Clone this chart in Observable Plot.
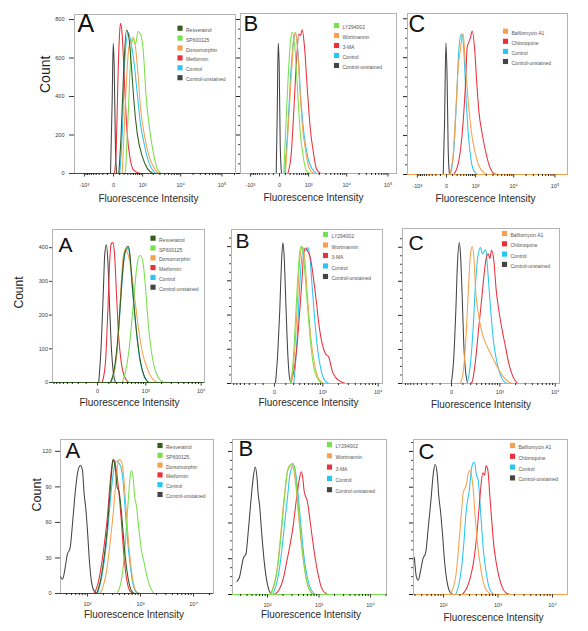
<!DOCTYPE html>
<html><head><meta charset="utf-8">
<script src="https://cdn.jsdelivr.net/npm/d3@7"></script>
<script src="https://cdn.jsdelivr.net/npm/@observablehq/plot@0.6"></script>
<style>
body{margin:0;background:#fff;}
#fig{position:relative;width:588px;height:631px;overflow:hidden;background:#fff;}
</style></head>
<body><div id="fig"></div>
<script>
// ---------- categories / colours ----------
const seriesA = ["Resveratrol","SP600125","Dorsomorphin","Metformin","Control","Control-unstained"];
const seriesB = ["LY294002","Wortmannin","3-MA","Control","Control-unstained"];
const seriesC = ["Bafilomycin A1","Chloroquine","Control","Control-unstained"];
const colorMap = new Map([
  ["Resveratrol","#325d1d"],["SP600125","#78e04a"],["Dorsomorphin","#f6a14b"],["Metformin","#ea303b"],
  ["Control","#28c6f1"],["Control-unstained","#444444"],["LY294002","#78e04a"],["Wortmannin","#f6a14b"],
  ["3-MA","#ea303b"],["Bafilomycin A1","#f6a14b"],["Chloroquine","#ea303b"]
]);

// ---------- tick labels ----------
const xTicksTop = [-1000, 0, 1000, 10000, 100000];
const xLabelsTop = ["-10³","0","10³","10⁴","10⁵"];
const xTicksMid = [0, 1000, 10000];
const xLabelsMid = ["0","10³","10⁴"];
const xTicksBot = [100, 1000, 10000];
const xLabelsBot = ["10²","10³","10⁴"];
const minorSym = [-900,-800,-700,-600,-500,-400,-300,-200,-100,100,200,300,400,500,600,700,800,900,
  2000,3000,4000,5000,6000,7000,8000,9000,20000,30000,40000,50000,60000,70000,80000,90000,200000];
const minorLog = [20,30,40,50,60,70,80,90,200,300,400,500,600,700,800,900,2000,3000,4000,5000,6000,7000,8000,9000,20000];
const yTicksTop = [0,200,400,600,800];
const yMinorTop = [50,100,150,250,300,350,450,500,550,650,700,750];
const yTicksMid = [0,100,200,300,400];
const yMinorMid = [25,50,75,125,150,175,225,250,275,325,350,375,425];
const yTicksBot = [0,30,60,90,120];
const yMinorBot = [7.5,15,22.5,37.5,45,52.5,67.5,75,82.5,97.5,105,112.5,127.5];

// ---------- row 1 (fluorescence, count) ----------
const r1a_Resveratrol = [[85,0],[132,206],[192,552],[262,746],[333,708],[426,552],[518,379],[681,206],[991,85],[1398,24],[1960,0]];
const r1a_SP600125 = [[235,0],[333,379],[416,654],[493,697],[596,671],[716,738],[860,724],[1063,621],[1245,415],[1560,242],[1960,119],[2570,24],[3180,0]];
const r1a_Dorsomorphin = [[154,0],[235,379],[333,654],[416,688],[493,709],[596,654],[716,516],[860,343],[1110,206],[1560,85],[2180,24],[2800,0]];
const r1a_Metformin = [[14,0],[40,119],[67,465],[98,720],[118,780],[154,720],[209,465],[283,206],[389,67],[518,16],[860,0]];
const r1a_Control = [[104,0],[161,240],[209,552],[315,733],[416,673],[518,586],[681,413],[860,258],[1110,154],[1560,50],[2420,0]];
const r1a_Unstained = [[-45,0],[-19,380],[-4,676],[10,550],[29,120],[50,0]];

const r1b_LY294002 = [[67,0],[98,204],[146,464],[209,690],[254,734],[323,673],[416,465],[518,239],[681,83],[860,14],[1160,0]];
const r1b_Wortmannin = [[98,0],[168,291],[254,586],[301,707],[355,734],[437,631],[518,448],[626,257],[811,118],[1012,31],[1398,0]];
const r1b_3MA = [[146,0],[227,101],[301,326],[389,586],[476,725],[548,717],[626,746],[745,656],[905,448],[1110,239],[1398,101],[1680,23],[2180,0]];
const r1b_Control = [[85,0],[146,239],[227,552],[301,699],[365,725],[452,621],[548,413],[716,206],[945,83],[1273,23],[1680,0]];
const r1b_Unstained = [[-50,0],[-34,300],[-19,678],[-4,550],[10,150],[29,0]];

const r1c_Bafilomycin = [[50,0],[112,105],[168,328],[227,551],[292,646],[344,714],[379,721],[464,551],[579,378],[729,225],[940,122],[1240,45],[1713,10],[2200,0]];
const r1c_Chloroquine = [[124,0],[243,70],[344,208],[464,465],[535,654],[609,680],[697,706],[784,737],[940,637],[1086,465],[1240,328],[1548,208],[1907,122],[2337,53],[3160,5],[3860,0]];
const r1c_Control = [[62,0],[124,122],[184,378],[243,635],[292,712],[345,721],[400,637],[493,378],[609,173],[729,70],[879,19],[1160,0]];
const r1c_Unstained = [[-50,0],[-29,260],[-8,676],[8,500],[25,120],[45,0]];

// ---------- row 2 ----------
const r2a_Resveratrol = [[119,0],[159,32],[208,112],[249,212],[290,312],[335,382],[376,400],[415,404],[453,382],[514,292],[580,212],[664,132],[779,62],[941,17],[1145,0]];
const r2a_SP600125 = [[290,0],[355,32],[429,92],[514,192],[588,282],[664,352],[718,372],[779,377],[885,352],[985,282],[1094,192],[1235,112],[1430,52],[1775,12],[2195,0]];
const r2a_Dorsomorphin = [[119,0],[182,52],[232,162],[272,292],[309,372],[355,394],[392,387],[429,372],[514,312],[610,232],[718,152],[845,92],[1066,42],[1332,12],[1656,0]];
const r2a_Metformin = [[36,0],[66,62],[89,212],[110,362],[128,412],[146,415],[169,382],[197,262],[232,132],[272,62],[335,17],[429,0]];
const r2a_Control = [[125,0],[165,30],[212,110],[252,210],[293,310],[338,378],[378,392],[412,398],[450,380],[510,290],[575,212],[660,130],[770,60],[930,17],[1130,0]];
const r2a_Unstained = [[9,0],[28,112],[45,262],[59,382],[75,409],[89,362],[107,232],[127,112],[152,32],[182,0]];

const r2b_LY294002 = [[155,0],[193,67],[227,185],[266,312],[302,387],[329,401],[370,381],[421,302],[478,214],[558,115],[650,47],[790,13],[972,0]];
const r2b_Wortmannin = [[168,0],[212,87],[255,224],[296,352],[335,396],[361,399],[400,372],[462,263],[558,136],[673,57],[829,13],[1017,0]];
const r2b_3MA = [[155,0],[212,47],[255,116],[302,214],[349,313],[383,381],[421,396],[478,386],[558,362],[632,313],[732,244],[829,175],[972,116],[1130,87],[1310,77],[1519,37],[1753,18],[2167,6],[2670,0]];
const r2b_Control = [[201,0],[243,96],[284,234],[329,352],[383,394],[429,387],[478,397],[531,372],[600,283],[673,195],[790,96],[928,37],[1129,6],[1309,0]];
const r2b_Unstained = [[7,0],[24,86],[41,214],[56,352],[69,411],[82,372],[100,234],[122,86],[146,13],[173,0]];

const r2c_Bafilomycin = [[75,0],[110,49],[139,147],[169,284],[197,381],[223,401],[249,372],[284,264],[321,215],[415,147],[542,108],[697,78],[885,49],[1115,24],[1392,8],[1730,0]];
const r2c_Chloroquine = [[197,0],[223,5],[278,68],[341,166],[415,264],[453,313],[522,372],[571,381],[619,367],[673,391],[753,362],[845,274],[954,215],[1115,156],[1290,108],[1494,59],[1852,15],[2195,0]];
const r2c_Control = [[152,0],[197,59],[239,166],[278,293],[321,372],[376,399],[415,381],[453,386],[501,393],[542,352],[600,274],[664,196],[753,117],[885,59],[1032,24],[1235,5],[1430,0]];
const r2c_Unstained = [[-2,0],[17,78],[33,215],[47,352],[63,414],[75,381],[93,254],[110,117],[134,29],[159,0]];

// ---------- row 3 ----------
const r3a_Resveratrol = [[150,0],[174,10],[201,27],[233,52],[262,81],[286,103],[303,113],[321,110],[340,103],[361,90],[394,86],[430,72],[469,52],[519,30],[583,13],[665,3],[769,0]];
const r3a_SP600125 = [[361,0],[417,7],[469,21],[519,44],[574,72],[627,95],[675,104],[726,98],[780,81],[839,74],[929,55],[1030,38],[1157,27],[1300,16],[1503,6],[1791,0]];
const r3a_Dorsomorphin = [[174,0],[201,7],[233,21],[269,44],[312,72],[350,98],[382,112],[406,113],[443,111],[483,98],[527,75],[574,52],[646,27],[726,10],[839,1.5],[971,0]];
const r3a_Metformin = [[134,0],[155,7],[179,21],[207,41],[240,67],[269,95],[294,110],[312,113],[340,108],[372,95],[406,78],[449,53],[497,27],[558,10],[646,1.5],[747,0]];
const r3a_Control = [[155,0],[179,10],[207,27],[240,52],[269,78],[303,100],[330,110],[361,112],[394,110],[430,106],[469,95],[512,72],[558,50],[627,27],[705,10],[815,1.5],[944,0]];
const r3a_Unstained = [[31.2,14],[34,12],[37.7,21],[41.7,33],[46.9,38],[52.7,61],[59.2,87],[66.5,104],[73.6,108],[80.4,104],[86.5,84],[92.9,72],[100,53],[109,27],[119,10],[134,2],[155,0]];

const r3b_LY294002 = [[116,0],[135,8],[156,22],[181,47],[204,72],[226,92],[251,106],[283,109],[309,110],[338,105],[370,89],[410,67],[455,45],[513,25],[577,11],[670,3],[800,0]];
const r3b_Wortmannin = [[113,0],[131,7],[152,20],[176,45],[198,70],[220,89],[244,103],[267,107],[292,109],[318,106],[353,92],[393,70],[442,47],[498,28],[560,14],[650,4],[776,0]];
const r3b_3MA = [[135,0],[168,4],[204,14],[237,28],[275,42],[318,59],[359,78],[398,92],[429,100],[455,103],[483,98],[513,87],[552,82],[594,78],[659,64],[743,47],[838,31],[957,17],[1109,6],[1346,1],[1563,0]];
const r3b_Control = [[125,0],[145,7],[168,20],[195,42],[220,64],[244,81],[267,98],[292,106],[314,109],[338,106],[370,95],[410,75],[455,53],[513,31],[577,17],[670,6],[800,1],[929,0]];
const r3b_Unstained = [[25.5,11],[28.3,14],[34.3,31],[38.1,34],[42.3,53],[47.5,78],[52.8,98],[57.7,107],[62.2,99],[65.9,84],[70,75],[76.6,53],[86.1,28],[97.1,11],[108,3],[119,0]];

const r3c_Bafilomycin = [[132,0],[152,6],[170,17],[190,40],[212,67],[231,86],[248,89],[265,93],[285,102],[305,104],[327,100],[351,88],[382,65],[415,45],[458,29],[512,15],[589,5],[705,1],[811,0]];
const r3c_Chloroquine = [[221,0],[265,5],[314,15],[361,29],[404,48],[445,70],[484,90],[526,102],[565,100],[605,108],[649,105],[705,84],[767,62],[834,42],[933,26],[1042,15],[1199,6],[1419,1],[1675,0]];
const r3c_Control = [[168,0],[193,9],[215,23],[238,45],[258,68],[277,79],[297,87],[323,104],[346,110],[372,111],[398,101],[433,96],[464,79],[505,54],[548,34],[614,17],[685,6],[789,1],[896,0]];
const r3c_Unstained = [[29.3,31],[31.8,15],[34.6,12],[37.7,19],[42.1,30],[47.1,35],[52.6,56],[58.9,79],[64.9,101],[70.5,109],[76.7,101],[82.2,82],[88.1,70],[95.9,51],[104.2,29],[115,12],[128.5,3],[148,0]];

// ---------- panel layout ----------
const panels = [
  {L:74,R:235,T:14,B:173, x:{type:"symlog",constant:250,domain:[-1907,211100]}, ymax:826, xt:xTicksTop, xl:xLabelsTop, xm:minorSym, xpad:6, yt:yTicksTop, ym:yMinorTop, ylab:true, ytick:5, ypad:5,
   letter:"A", lfs:25, lpos:[3,0], leg:[105.5,13.7,9.9], count:[-29,-1,14], lbl:[-6.5,28],
   series:[seriesA, [r1a_Resveratrol,r1a_SP600125,r1a_Dorsomorphin,r1a_Metformin,r1a_Control,r1a_Unstained]]},
  {L:240,R:396,T:13,B:173, x:{type:"symlog",constant:250,domain:[-1907,160100]}, ymax:831, xt:xTicksTop, xl:xLabelsTop, xm:minorSym, xpad:6, yt:yTicksTop, ym:yMinorTop, ylab:false,
   letter:"B", lfs:22, lpos:[3,2], leg:[96,12,10], lbl:[-5,27.5],
   series:[seriesB, [r1b_LY294002,r1b_Wortmannin,r1b_3MA,r1b_Control,r1b_Unstained]]},
  {L:407,R:567,T:13,B:174, x:{type:"symlog",constant:250,domain:[-1907,199800]}, ymax:827, xt:xTicksTop, xl:xLabelsTop, xm:minorSym, xpad:6, yt:yTicksTop, ym:yMinorTop, ylab:false,
   letter:"C", lfs:23, lpos:[1,2], leg:[98,17.7,10.1], lbl:[-2,27],
   series:[seriesC, [r1c_Bafilomycin,r1c_Chloroquine,r1c_Control,r1c_Unstained]]},

  {L:52,R:204,T:229,B:382, x:{type:"symlog",constant:180,domain:[-857,11400]}, ymax:454, xt:xTicksMid, xl:xLabelsMid, xm:minorSym, xpad:3, yt:yTicksMid, ym:yMinorMid, ylab:true, ytick:3, ypad:1.5,
   letter:"A", lfs:21, lpos:[6,8], leg:[100.5,8.7,9.8], count:[-33,2.5,12], lbl:[1,23.5],
   series:[seriesA, [r2a_Resveratrol,r2a_SP600125,r2a_Dorsomorphin,r2a_Metformin,r2a_Control,r2a_Unstained]]},
  {L:231,R:382,T:229,B:383, x:{type:"symlog",constant:180,domain:[-779,11850]}, ymax:450, xt:xTicksMid, xl:xLabelsMid, xm:minorSym, xpad:3, yt:yTicksMid, ym:yMinorMid, ylab:false,
   letter:"B", lfs:21, lpos:[4,4], leg:[94,5,10.5], lbl:[1.5,22.5],
   series:[seriesB, [r2b_LY294002,r2b_Wortmannin,r2b_3MA,r2b_Control,r2b_Unstained]]},
  {L:402,R:559,T:228,B:383, x:{type:"symlog",constant:180,domain:[-1032,11850]}, ymax:455, xt:xTicksMid, xl:xLabelsMid, xm:minorSym, xpad:3, yt:yTicksMid, ym:yMinorMid, ylab:false,
   letter:"C", lfs:21, lpos:[6,7], leg:[102,5,10.3], lbl:[0,24],
   series:[seriesC, [r2c_Bafilomycin,r2c_Chloroquine,r2c_Control,r2c_Unstained]]},

  {L:60,R:213,T:439,B:593, x:{type:"log",domain:[31,23800]}, ymax:130, xt:xTicksBot, xl:xLabelsBot, xm:minorLog, xpad:5, yt:yTicksBot, ym:yMinorBot, ylab:true, ytick:5, ypad:4,
   letter:"A", lfs:22, lpos:[5,3], leg:[99.5,6,9.8], count:[-24,-5,12.5], lbl:[-3,24],
   series:[seriesA, [r3a_Resveratrol,r3a_SP600125,r3a_Dorsomorphin,r3a_Metformin,r3a_Control,r3a_Unstained]]},
  {L:232,R:386,T:439,B:594, x:{type:"log",domain:[20.9,20400]}, ymax:130, xt:xTicksBot, xl:xLabelsBot, xm:minorLog, xpad:5, yt:yTicksBot, ym:yMinorBot, ylab:false,
   letter:"B", lfs:22, lpos:[6,1], leg:[97,5,11.3], lbl:[1.5,23],
   series:[seriesB, [r3b_LY294002,r3b_Wortmannin,r3b_3MA,r3b_Control,r3b_Unstained]]},
  {L:413,R:567,T:439,B:594, x:{type:"log",domain:[28.2,18800]}, ymax:130, xt:xTicksBot, xl:xLabelsBot, xm:minorLog, xpad:5, yt:yTicksBot, ym:yMinorBot, ylab:false,
   letter:"C", lfs:22, lpos:[5,4], leg:[99,6,10.8], lbl:[3,26],
   series:[seriesC, [r3c_Bafilomycin,r3c_Chloroquine,r3c_Control,r3c_Unstained]]}
];

const FONT = "Arial, 'Liberation Sans', sans-serif";
const fig = document.getElementById("fig");

function makePanel(p) {
  const ml = 40, mr = 10, mt = 10, mb = 40;
  const width = p.R - p.L + ml + mr;
  const height = p.B - p.T + mt + mb;
  const names = p.series[0], datas = p.series[1];
  const labelMap = new Map(p.xt.map((t, i) => [t, p.xl[i]]));
  const minor = p.xm.filter(v => v > p.x.domain[0] && v < p.x.domain[1]);
  const marks = [];
  marks.push(Plot.frame({stroke: "#b4b4b4", strokeWidth: 1}));
  // curves (first legend entry drawn last, on top)
  for (let i = names.length - 1; i >= 0; --i) {
    marks.push(Plot.line(datas[i], {x: d => d[0], y: d => d[1], stroke: colorMap.get(names[i]), strokeWidth: 1.05, curve: "monotone-x"}));
  }
  marks.push(Plot.ruleY([0], {stroke: colorMap.get(names[0]), strokeWidth: 1.2}));
  // axes
  marks.push(Plot.axisX(minor, {tickSize: 2, tickFormat: () => "", color: "#222", label: null}));
  marks.push(Plot.axisX(p.xt, {tickSize: 3.5, tickPadding: p.xpad, tickFormat: d => labelMap.get(d), color: "#3a3a3a", fontSize: 5.5, label: null}));
  if (p.ylab) {
    marks.push(Plot.axisY(p.yt, {tickSize: p.ytick, tickPadding: p.ypad, tickFormat: d => String(d), color: "#3a3a3a", fontSize: 5.5, label: null}));
    marks.push(Plot.text(["Count"], {frameAnchor: "left", dx: p.count[0], dy: p.count[1], rotate: -90, fontSize: p.count[2], fill: "#222", text: d => d}));
  } else {
    marks.push(Plot.axisY(p.yt, {tickSize: 4, tickFormat: () => "", color: "#222", label: null}));
    marks.push(Plot.axisY(p.ym, {tickSize: 2, tickFormat: () => "", color: "#444", label: null}));
  }
  marks.push(Plot.text(["Fluorescence Intensity"], {frameAnchor: "bottom", dx: p.lbl[0], dy: p.lbl[1], fontSize: 10, fill: "#2a2a2a", text: d => d}));
  // panel letter
  marks.push(Plot.text([p.letter], {frameAnchor: "top-left", dx: p.lpos[0], dy: p.lpos[1], lineAnchor: "top", textAnchor: "start", fontSize: p.lfs, fill: "#111", text: d => d}));
  // legend
  names.forEach((n, i) => {
    const dy = p.leg[1] + i * p.leg[2];
    marks.push(Plot.dot([n], {frameAnchor: "top-left", dx: p.leg[0], dy, symbol: "square", r: 2.9, fill: colorMap.get(n), stroke: "none"}));
    marks.push(Plot.text([n], {frameAnchor: "top-left", dx: p.leg[0] + 6, dy, textAnchor: "start", fontSize: 5, fill: "#555", text: d => d}));
  });
  const svg = Plot.plot({
    width, height, marginLeft: ml, marginRight: mr, marginTop: mt, marginBottom: mb,
    x: p.x, y: {domain: [0, p.ymax]},
    style: {background: "transparent", fontFamily: FONT, fontSize: "5.5px", overflow: "visible"},
    marks
  });
  svg.style.position = "absolute";
  svg.style.left = (p.L - ml) + "px";
  svg.style.top = (p.T - mt) + "px";
  svg.style.maxWidth = "none";
  fig.appendChild(svg);
}
panels.forEach(makePanel);
</script>
</body></html>
